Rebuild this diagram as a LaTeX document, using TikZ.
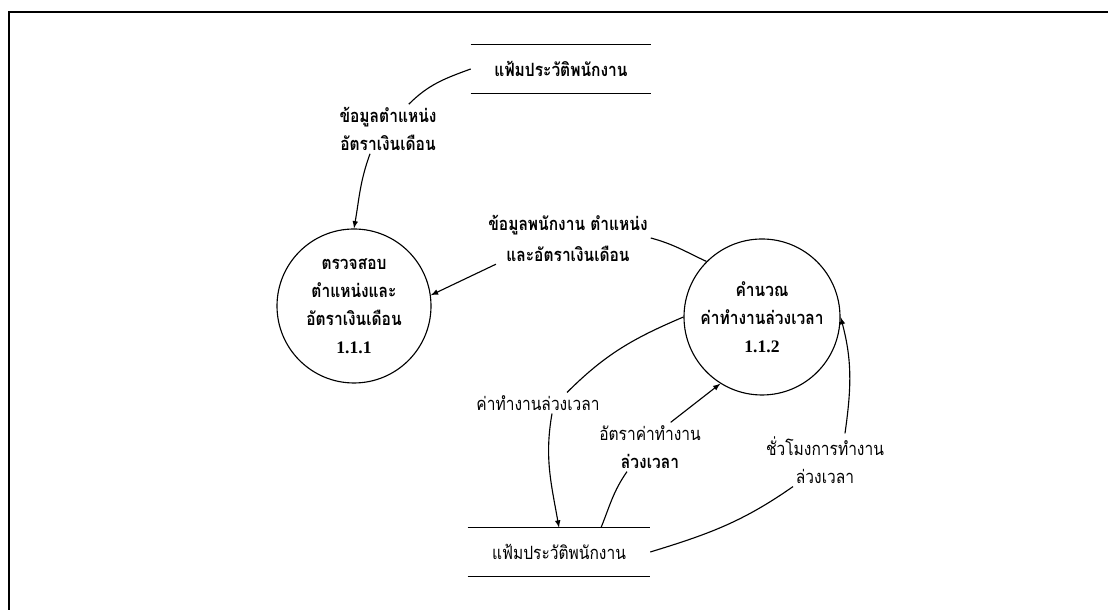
\documentclass[tikz,border=0pt]{standalone}
\usepackage{fontspec}
\setmainfont{Liberation Serif}
\newfontfamily\thaifont[Script=Thai, FakeStretch=0.85]{Loma}
\usetikzlibrary{arrows, positioning, calc}

\tikzset{
    process/.style={circle, draw, line width=0.8pt, minimum size=3.9cm, align=center,
                    font=\thaifont\bfseries\fontsize{13}{20}\selectfont},
    flowlabel/.style={align=center, inner sep=2pt, font=\thaifont\fontsize{13}{20}\selectfont},
    storebox/.style={minimum width=4.5cm, minimum height=1.2cm, inner sep=0pt,
                     font=\thaifont\fontsize{13}{20}\selectfont},
    storeline/.style={line width=1pt},
    flow/.style={line width=0.8pt},
    >=latex
}

\begin{document}
\begin{tikzpicture}
    \useasboundingbox (0,0) rectangle (27.7,15.25);
    % frame of the page
    \draw[line width=1.6pt] (27.7,14.95) -- (0.225,14.95) -- (0.225,0);

    % data stores
    \node[storebox] (st1) at (14.025,13.525) {\bfseries แฟ้มประวัติพนักงาน};
    \draw[storeline] (st1.north west) -- (st1.north east) (st1.south west) -- (st1.south east);
    \node[storebox, minimum width=4.55cm] (st2) at (13.975,1.45) {แฟ้มประวัติพนักงาน};
    \draw[storeline] (st2.north west) -- (st2.north east) (st2.south west) -- (st2.south east);

    % processes
    \node[process, minimum size=3.85cm] (p1) at (8.85,7.6)
        {ตรวจสอบ\\ตำแหน่งและ\\อัตราเงินเดือน\\{\rmfamily\fontsize{12.5}{20}\selectfont 1.1.1}};
    \node[process] (p2) at (19.05,7.325)
        {คำนวณ\\ค่าทำงานล่วงเวลา\\{\rmfamily\fontsize{12.5}{20}\selectfont 1.1.2}};

    % flow labels
    \node[flowlabel, font=\thaifont\bfseries\fontsize{13}{20}\selectfont] (l1) at (9.7,12.025)
        {ข้อมูลตำแหน่ง\\อัตราเงินเดือน};
    \node[flowlabel, font=\thaifont\bfseries\fontsize{13}{22}\selectfont] (l2) at (14.2,9.3)
        {ข้อมูลพนักงาน ตำแหน่ง\\และอัตราเงินเดือน};
    \node[flowlabel] (l3) at (13.45,5.175) {ค่าทำงานล่วงเวลา};
    \node[flowlabel] (l4) at (16.25,4.075) {อัตราค่าทำงาน\\\bfseries ล่วงเวลา};
    \node[flowlabel] (l5) at (20.625,3.75) {ชั่วโมงการทำงาน\\ล่วงเวลา};

    % flows
    \draw[flow] (st1.west) to[out=200, in=45] (l1.50);
    \draw[flow, ->] ($(l1.south)+(-0.45,0)$) to[out=250, in=80] (p1.north);

    \draw[flow] (p2.135) to[out=155, in=-15] (l2.east);
    \draw[flow, ->] (l2.200) -- (p1.8);

    \draw[flow] (p2.west) to[out=203, in=45] (l3.20);
    \draw[flow, ->] ($(l3.south)+(0.35,0)$) to[out=260, in=100] (st2.north);

    \draw[flow] ($(st2.north)+(1.05,0)$) to[out=68, in=235] ($(l4.south)+(-0.575,0)$);
    \draw[flow, ->] (l4.50) -- (p2.238);

    \draw[flow] (st2.east) to[out=17, in=215] ($(l5.south)+(-0.8,0)$);
    \draw[flow, ->] ($(l5.north)+(0.5,0)$) to[out=82, in=-75] (p2.east);
\end{tikzpicture}
\end{document}
